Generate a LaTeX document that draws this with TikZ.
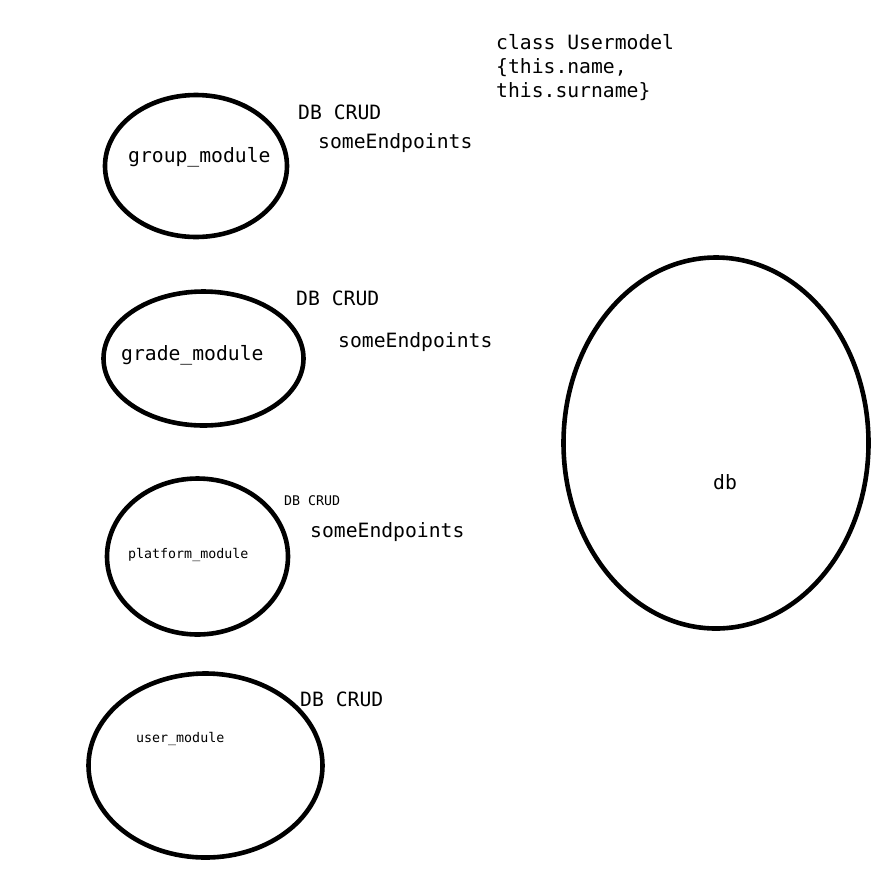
\documentclass[tikz,border=0pt]{standalone}
\usepackage{fontspec}
\setmonofont{DejaVu Sans Mono}
\usetikzlibrary{shapes.geometric}
\tikzset{
  blob/.style={draw, ellipse, line width=4.6pt, inner sep=0pt},
  big/.style={font=\ttfamily\fontsize{19.7}{24}\selectfont, inner sep=0pt, anchor=base west},
  small/.style={font=\ttfamily\fontsize{13.3}{16}\selectfont, inner sep=0pt, anchor=base west},
}
\begin{document}
\begin{tikzpicture}[x=1pt,y=-1pt]
\useasboundingbox (0,0) rectangle (896,887);
\node[blob, minimum width=182pt, minimum height=142pt] (group) at (196,166) {};
\node[blob, minimum width=200pt, minimum height=134pt] (grade) at (203.5,358.5) {};
\node[blob, minimum width=181pt, minimum height=156pt] (platform) at (197.5,556.5) {};
\node[blob, minimum width=234pt, minimum height=184pt] (user) at (205.5,765.5) {};
\node[blob, minimum width=305pt, minimum height=371pt] (db) at (716,443) {};

\node[big] (gtxt) at (128,162) {group\_module};
\node[big] (grtxt) at (121,360) {grade\_module};
\node[small] (ptxt) at (128,558) {platform\_module};
\node[small] (utxt) at (136,742) {user\_module};
\node[big] (dbtxt) at (713,489) {db};

\node[big] (c1) at (298,119) {DB CRUD};
\node[big] (e1) at (318,148) {someEndpoints};
\node[big] (c2) at (296,305) {DB CRUD};
\node[big] (e2) at (338,347) {someEndpoints};
\node[small] (c3) at (284,505) {DB CRUD};
\node[big] (e3) at (310,537) {someEndpoints};
\node[big] (c4) at (300,706) {DB CRUD};

\node[big] (m1) at (496,49) {class Usermodel};
\node[big] (m2) at (496,73) {\{this.name,};
\node[big] (m3) at (496,97) {this.surname\}};
\end{tikzpicture}
\end{document}
